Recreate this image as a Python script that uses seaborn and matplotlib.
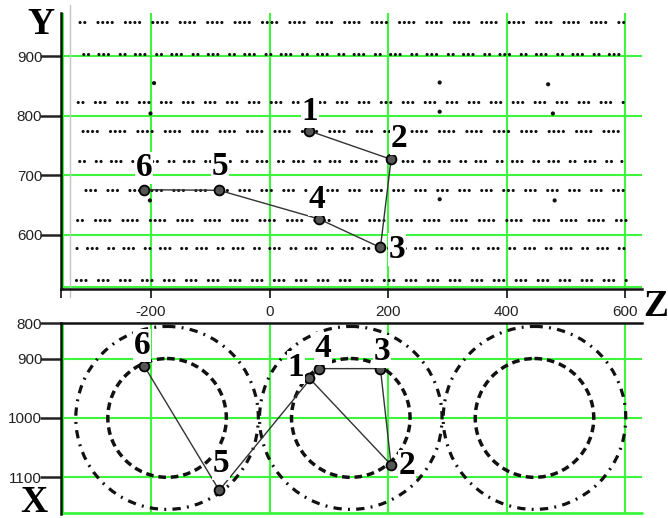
import matplotlib
matplotlib.use("Agg")
import matplotlib.pyplot as plt
from matplotlib.patches import Circle
import seaborn as sns

# Marked sample points, (Z, Y, X) coordinates
point_ids = ["1", "2", "3", "4", "5", "6"]
point_z = [66, 205, 187, 83, -85, -212]
point_y = [775, 727, 579, 627, 675, 676]
point_x = [932, 1079, 917, 917, 1122, 912]

# Layers of the point cloud in side view (Y of each layer) and their Z span
layer_y = [525, 578, 625, 675, 725, 775, 824, 904, 957]
layer_z_span = [-327, 602]

# Isolated samples between the layers
stray_z = [-195, -201, 287, 287, 470, 478, 287, 481, -202]
stray_y = [855, 804, 856, 807, 853, 804, 660, 658, 658]

# Ring structures in top view
ring_z = [-173, 137, 447]
ring_x = [1000, 1000, 1000]
inner_radius = 100
outer_radius = 154

# Axis ticks
z_ticks = [-200, 0, 200, 400, 600]
z_tick_labels = ["-200", "0", "200", "400", "600"]
y_ticks = [600, 700, 800, 900]
y_tick_labels = ["600", "700", "800", "900"]
x_ticks = [840.7, 900, 1000, 1100]
x_tick_labels = ["800", "900", "1000", "1100"]

GREEN = "#3cf53c"
INK = "#111111"
W, H = 668, 518

sns.set_style("white")
plt.rcParams.update({
    "font.family": ["Liberation Sans", "DejaVu Sans"],
    "axes.unicode_minus": False,
    "lines.scale_dashes": False,
})

fig = plt.figure(figsize=(W / 100, H / 100), dpi=100)
ax_top = fig.add_axes([61 / W, 1 - 289 / H, 581 / W, 276 / H])
ax_bot = fig.add_axes([61 / W, 1 - 513.5 / H, 581 / W, 190.2 / H])

z_lim = (-352, 628.4)
label_font = dict(family=["Liberation Serif", "DejaVu Serif"], weight="bold")
dot_patterns = [
    (0.01, 3.4, 0.01, 3.4, 0.01, 9.0),
    (0.01, 3.4, 0.01, 7.5, 0.01, 3.4, 0.01, 3.4, 0.01, 8.5),
    (0.01, 3.4, 0.01, 3.4, 0.01, 3.4, 0.01, 9.5),
]

# ---------------- side view: Y against Z ----------------
ax = ax_top
ax.set_xlim(*z_lim)
ax.set_ylim(509.3, 972.7)
for z in z_ticks:
    ax.axvline(z, color=GREEN, lw=1.5, zorder=0)
for y in y_ticks:
    ax.axhline(y, color=GREEN, lw=1.5, zorder=0)
ax.axvline(z_lim[0] + 3, color=GREEN, lw=1.5, zorder=0)
ax.axhline(512.5, color=GREEN, lw=1.5, zorder=0)
ax.axvline(-336, ymin=-0.03, ymax=1.03, color="#c4c4c4", lw=1.0,
           clip_on=False, zorder=0)

for i, y in enumerate(layer_y):
    ax.plot(layer_z_span, [y, y], color=INK, lw=2.3,
            linestyle=(i * 3.0, dot_patterns[i % 3]),
            dash_capstyle="round", zorder=2)
sns.scatterplot(x=stray_z, y=stray_y, s=9, color=INK, edgecolor="none",
                ax=ax, zorder=2)

sns.lineplot(x=point_z, y=point_y, sort=False, estimator=None,
             color="#333333", lw=1.0, ax=ax, zorder=3)
sns.scatterplot(x=point_z, y=point_y, s=50, color="#555555",
                edgecolor="black", linewidth=1.3, ax=ax, zorder=4)

top_offsets = [(1, -19), (8, -21), (17, 2), (-2, -19), (1, -24), (0, -22)]
for pid, z, y, (dx, dy) in zip(point_ids, point_z, point_y, top_offsets):
    ax.annotate(pid, (z, y), xytext=(dx * 0.72, -dy * 0.72),
                textcoords="offset points", ha="center", va="center",
                fontsize=24, color="black", zorder=6,
                bbox=dict(facecolor="white", edgecolor="none", pad=0.5),
                **label_font)

ax.set_xticks([z_lim[0]] + z_ticks)
ax.set_xticklabels([""] + z_tick_labels)
ax.set_yticks(y_ticks)
ax.set_yticklabels(y_tick_labels)
ax.tick_params(axis="x", bottom=True, direction="out", length=6.5,
               width=1.3, pad=5, labelsize=11, colors="#222222")
ax.tick_params(axis="y", left=True, direction="out", length=15, width=1.8,
               pad=-1.5, labelsize=11, colors="#222222")
ax.set_xlabel("")
ax.set_ylabel("")
for side in ("top", "right"):
    ax.spines[side].set_visible(False)
for side in ("left", "bottom"):
    ax.spines[side].set_color("#111111")
    ax.spines[side].set_linewidth(1.8)

# ---------------- top view: X against Z ----------------
ax = ax_bot
ax.set_xlim(*z_lim)
ax.set_ylim(1160.9, 840.7)
for z in z_ticks:
    ax.axvline(z, color=GREEN, lw=1.5, zorder=0)
for x in x_ticks[1:]:
    ax.axhline(x, color=GREEN, lw=1.5, zorder=0)
ax.axvline(z_lim[0] + 3, color=GREEN, lw=1.5, zorder=0)
ax.axhline(1159.5, color=GREEN, lw=2.0, zorder=0, clip_on=False)

for cz, cx in zip(ring_z, ring_x):
    ax.add_patch(Circle((cz, cx), inner_radius, fill=False, color=INK,
                        lw=2.5, linestyle=(0, (5.5, 3.5)), zorder=2))
    ax.add_patch(Circle((cz, cx), outer_radius, fill=False, color=INK,
                        lw=2.3, linestyle=(0, (6, 4.5, 1.4, 4.5)), zorder=2))

sns.lineplot(x=point_z, y=point_x, sort=False, estimator=None,
             color="#333333", lw=1.0, ax=ax, zorder=3)
sns.scatterplot(x=point_z, y=point_x, s=50, color="#555555",
                edgecolor="black", linewidth=1.3, ax=ax, zorder=4)

bot_offsets = [(-13, -10), (16, 1), (2, -17), (4, -20), (2, -27), (-2, -20)]
for pid, z, x, (dx, dy) in zip(point_ids, point_z, point_x, bot_offsets):
    ax.annotate(pid, (z, x), xytext=(dx * 0.72, -dy * 0.72),
                textcoords="offset points", ha="center", va="center",
                fontsize=24, color="black", zorder=6,
                bbox=dict(facecolor="white", edgecolor="none", pad=0.5),
                **label_font)

ax.set_xticks([])
ax.set_yticks(x_ticks)
ax.set_yticklabels(x_tick_labels)
ax.set_ylim(1160.9, 840.7)
ax.tick_params(axis="y", left=True, direction="out", length=15, width=1.8,
               pad=-1.5, labelsize=11, colors="#222222")
ax.set_xlabel("")
ax.set_ylabel("")
for side in ("right", "bottom"):
    ax.spines[side].set_visible(False)
for side in ("left", "top"):
    ax.spines[side].set_color("#111111")
    ax.spines[side].set_linewidth(1.8)

# Axis letters
axis_font = dict(fontsize=27, ha="center", va="center", color="black",
                 **label_font)
fig.text(41 / W, 1 - 25 / H, "Y", **axis_font)
fig.text(656 / W, 1 - 306 / H, "Z", **axis_font)
fig.text(34 / W, 1 - 502 / H, "X", **axis_font)

fig.savefig("out.png", dpi=100)
